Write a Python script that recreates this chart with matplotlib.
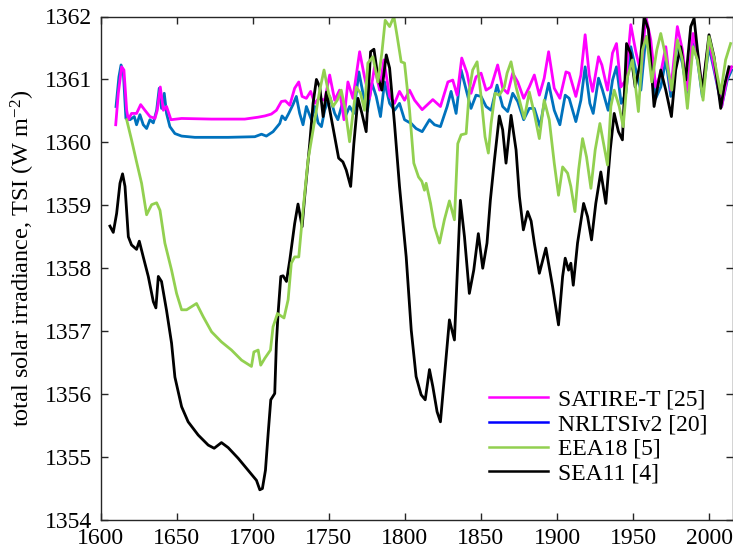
import matplotlib
matplotlib.use("Agg")
import matplotlib.pyplot as plt
from matplotlib.lines import Line2D

plt.rcParams['font.family'] = ['Liberation Serif', 'DejaVu Serif']
plt.rcParams['mathtext.fontset'] = 'custom'
plt.rcParams['mathtext.rm'] = 'Liberation Serif'
plt.rcParams['mathtext.it'] = 'Liberation Serif:italic'

# --- data (year, TSI in W m^-2) ---
satire_yr = [1610.0, 1611.7, 1613.9, 1615.4, 1617.2, 1618.3, 1620.4, 1623.7, 1626.4, 1629.2,
             1632.5, 1635.8, 1637.3, 1639.3, 1641.3, 1643.4, 1646.3, 1653.3, 1672.9, 1694.8,
             1703.6, 1708.0, 1712.3, 1715.6, 1718.9, 1721.5, 1724.4, 1727.6, 1730.3, 1732.5,
             1735.3, 1738.1, 1740.8, 1743.4, 1747.3, 1750.6, 1753.9, 1757.1, 1760.0, 1762.6,
             1765.9, 1770.3, 1773.5, 1776.8, 1780.1, 1783.4, 1786.2, 1790.0, 1793.2, 1796.5,
             1799.8, 1803.1, 1806.4, 1811.4, 1818.4, 1823.4, 1828.3, 1831.5, 1834.4, 1837.4,
             1840.9, 1843.5, 1846.8, 1850.1, 1853.4, 1856.7, 1861.0, 1864.3, 1867.6, 1870.9,
             1874.2, 1878.1, 1881.8, 1885.1, 1888.4, 1891.6, 1894.5, 1898.2, 1901.9, 1905.9,
             1908.0, 1912.4, 1915.7, 1918.5, 1921.2, 1923.4, 1927.3, 1929.5, 1933.2, 1936.5,
             1939.1, 1942.0, 1945.2, 1948.5, 1951.8, 1955.1, 1958.4, 1961.6, 1964.9, 1968.2,
             1971.5, 1974.8, 1979.1, 1982.4, 1985.7, 1989.4, 1992.3, 1995.5, 1999.9, 2003.2,
             2008.2, 2011.9, 2014.8]
satire_tsi = [1360.28, 1360.78, 1361.20, 1361.15, 1360.51, 1360.36, 1360.46, 1360.46, 1360.60, 1360.51,
              1360.41, 1360.38, 1360.51, 1360.88, 1360.51, 1360.57, 1360.36, 1360.38, 1360.37, 1360.37,
              1360.40, 1360.42, 1360.45, 1360.51, 1360.65, 1360.66, 1360.59, 1360.86, 1360.96, 1360.73,
              1360.70, 1360.81, 1360.62, 1360.70, 1360.67, 1361.07, 1360.67, 1360.83, 1360.36, 1360.96,
              1360.70, 1361.44, 1361.04, 1360.70, 1361.20, 1360.83, 1361.31, 1360.73, 1360.62, 1360.81,
              1360.67, 1360.83, 1360.67, 1360.52, 1360.68, 1360.57, 1360.96, 1360.99, 1360.75, 1361.34,
              1361.10, 1360.78, 1361.04, 1361.10, 1360.83, 1360.88, 1361.23, 1360.86, 1360.78, 1361.10,
              1360.96, 1360.70, 1360.88, 1361.07, 1360.75, 1361.02, 1361.44, 1360.86, 1360.70, 1361.12,
              1361.10, 1360.73, 1361.07, 1361.71, 1361.07, 1360.81, 1361.36, 1361.23, 1360.83, 1361.42,
              1361.57, 1360.88, 1360.99, 1361.87, 1361.44, 1361.10, 1362.00, 1361.63, 1360.88, 1361.10,
              1361.52, 1360.83, 1361.84, 1361.47, 1360.83, 1361.73, 1361.42, 1360.81, 1361.63, 1361.20,
              1360.57, 1361.04, 1361.20]

nrl_yr = [1610.2, 1612.1, 1613.5, 1615.0, 1616.7, 1619.4, 1622.2, 1623.7, 1625.9, 1628.1,
          1630.3, 1632.5, 1634.7, 1636.9, 1638.6, 1640.1, 1641.9, 1643.4, 1645.6, 1648.9,
          1653.3, 1662.0, 1683.9, 1701.4, 1705.8, 1709.0, 1713.4, 1717.8, 1719.3, 1721.5,
          1723.7, 1726.5, 1728.7, 1730.9, 1733.1, 1735.3, 1738.6, 1740.8, 1743.0, 1745.2,
          1747.3, 1750.6, 1753.9, 1756.0, 1758.7, 1760.9, 1763.7, 1766.5, 1769.8, 1772.5,
          1775.3, 1778.4, 1781.2, 1784.0, 1786.7, 1790.0, 1793.2, 1796.5, 1799.8, 1804.2,
          1807.4, 1811.4, 1816.2, 1819.5, 1823.4, 1827.8, 1830.4, 1833.7, 1837.0, 1840.9,
          1843.5, 1846.8, 1850.1, 1853.4, 1856.7, 1860.6, 1864.3, 1867.6, 1870.9, 1874.2,
          1878.1, 1881.8, 1885.1, 1888.8, 1891.6, 1894.5, 1898.2, 1901.9, 1905.4, 1908.0,
          1912.4, 1915.7, 1918.5, 1921.6, 1923.8, 1927.3, 1929.9, 1933.6, 1936.5, 1939.1,
          1942.2, 1945.2, 1948.5, 1951.8, 1955.1, 1958.4, 1961.6, 1964.9, 1968.2, 1971.5,
          1974.8, 1979.1, 1982.4, 1985.7, 1989.4, 1992.3, 1995.5, 1999.9, 2003.2, 2008.2,
          2011.9, 2014.8]
nrl_tsi = [1360.57, 1361.04, 1361.23, 1361.12, 1360.38, 1360.36, 1360.41, 1360.28, 1360.44, 1360.28,
           1360.22, 1360.36, 1360.31, 1360.51, 1360.86, 1360.54, 1360.78, 1360.46, 1360.25, 1360.14,
           1360.10, 1360.08, 1360.08, 1360.09, 1360.13, 1360.10, 1360.17, 1360.30, 1360.42, 1360.36,
           1360.46, 1360.60, 1360.73, 1360.46, 1360.28, 1360.57, 1360.36, 1360.57, 1360.31, 1360.25,
           1360.51, 1360.73, 1360.46, 1360.36, 1360.60, 1360.41, 1360.57, 1360.46, 1361.12, 1360.78,
           1360.49, 1360.94, 1360.73, 1360.41, 1360.96, 1360.62, 1360.51, 1360.62, 1360.36, 1360.30,
           1360.22, 1360.17, 1360.36, 1360.28, 1360.25, 1360.57, 1360.81, 1360.46, 1361.15, 1360.78,
           1360.54, 1360.75, 1360.73, 1360.57, 1360.51, 1360.91, 1360.57, 1360.49, 1360.78, 1360.65,
           1360.36, 1360.54, 1360.54, 1360.25, 1360.62, 1360.94, 1360.51, 1360.28, 1360.75, 1360.70,
           1360.33, 1360.67, 1361.20, 1360.62, 1360.46, 1361.02, 1360.83, 1360.51, 1360.99, 1361.20,
           1360.62, 1360.78, 1361.52, 1361.15, 1360.83, 1361.68, 1361.31, 1360.70, 1360.88, 1361.31,
           1360.73, 1361.57, 1361.26, 1360.75, 1361.57, 1361.31, 1360.73, 1361.52, 1361.15, 1360.57,
           1360.99, 1361.15]

eea_yr = [1617.2, 1620.4, 1623.7, 1627.0, 1630.3, 1633.6, 1636.9, 1639.1, 1642.3, 1646.7,
          1650.0, 1653.3, 1656.6, 1663.1, 1667.5, 1673.0, 1679.5, 1686.1, 1692.7, 1699.2,
          1700.8, 1703.6, 1705.3, 1708.0, 1711.7, 1713.4, 1716.3, 1720.6, 1723.3, 1725.4,
          1727.6, 1730.3, 1733.1, 1736.4, 1740.8, 1744.1, 1746.9, 1749.9, 1752.8, 1755.6,
          1758.2, 1760.9, 1763.7, 1765.9, 1768.1, 1770.9, 1773.5, 1775.7, 1779.0, 1782.3,
          1784.9, 1787.1, 1790.0, 1792.8, 1795.0, 1797.6, 1799.8, 1803.1, 1805.9, 1809.0,
          1811.2, 1812.9, 1814.0, 1816.9, 1819.5, 1822.8, 1826.0, 1829.3, 1832.6, 1834.8,
          1837.0, 1840.3, 1842.4, 1844.6, 1847.5, 1850.1, 1852.7, 1854.9, 1856.7, 1859.3,
          1862.1, 1865.4, 1867.2, 1869.8, 1873.1, 1876.4, 1878.5, 1881.8, 1885.1, 1888.4,
          1891.6, 1894.9, 1898.2, 1901.0, 1903.7, 1907.0, 1909.1, 1911.8, 1914.2, 1916.8,
          1919.4, 1922.3, 1925.1, 1928.2, 1931.0, 1933.2, 1935.4, 1937.6, 1940.9, 1943.5,
          1946.3, 1949.6, 1953.5, 1956.2, 1958.8, 1962.3, 1965.6, 1968.2, 1971.5, 1975.4,
          1979.1, 1982.4, 1985.7, 1989.4, 1992.3, 1996.0, 1999.9, 2003.2, 2007.6, 2010.8,
          2014.1]
eea_tsi = [1360.36, 1360.04, 1359.69, 1359.35, 1358.85, 1359.01, 1359.04, 1358.92, 1358.40, 1357.97,
           1357.60, 1357.34, 1357.34, 1357.44, 1357.23, 1356.99, 1356.83, 1356.70, 1356.54, 1356.44,
           1356.67, 1356.70, 1356.46, 1356.57, 1356.70, 1357.07, 1357.28, 1357.21, 1357.50, 1358.08,
           1358.18, 1358.18, 1358.92, 1359.72, 1360.36, 1360.83, 1361.15, 1360.78, 1360.57, 1360.67,
           1360.83, 1360.51, 1360.01, 1360.46, 1360.88, 1360.78, 1360.51, 1361.26, 1361.36, 1360.96,
           1361.42, 1361.94, 1361.84, 1362.00, 1361.68, 1361.28, 1361.26, 1360.51, 1359.67, 1359.45,
           1359.38, 1359.24, 1359.35, 1359.03, 1358.66, 1358.40, 1358.77, 1359.07, 1358.77, 1359.98,
           1360.12, 1360.14, 1360.83, 1361.15, 1361.28, 1360.73, 1360.09, 1359.83, 1360.30, 1360.78,
           1360.75, 1360.88, 1361.10, 1361.28, 1360.88, 1360.57, 1360.38, 1360.80, 1360.46, 1360.06,
           1360.67, 1360.36, 1359.67, 1359.16, 1359.61, 1359.51, 1359.30, 1358.90, 1359.56, 1360.06,
           1359.77, 1359.27, 1359.88, 1360.30, 1359.93, 1359.64, 1360.57, 1360.83, 1360.57, 1360.25,
           1361.04, 1361.31, 1360.49, 1361.47, 1361.68, 1360.96, 1361.47, 1361.73, 1361.36, 1360.83,
           1361.63, 1361.31, 1360.54, 1361.52, 1361.31, 1360.67, 1361.68, 1361.34, 1360.78, 1361.31,
           1361.57]

sea_yr = [1606.2, 1608.4, 1610.6, 1612.8, 1614.5, 1616.1, 1618.3, 1620.4, 1623.7, 1625.5,
          1628.1, 1631.4, 1634.7, 1636.4, 1638.0, 1640.1, 1643.4, 1646.7, 1648.9, 1653.3,
          1657.6, 1664.2, 1670.8, 1674.7, 1679.5, 1683.9, 1690.5, 1697.0, 1702.5, 1704.7,
          1706.4, 1708.4, 1710.2, 1711.9, 1714.5, 1715.6, 1716.7, 1718.5, 1720.0, 1722.2,
          1724.4, 1727.6, 1729.8, 1730.9, 1732.5, 1734.2, 1737.5, 1739.7, 1741.9, 1744.1,
          1746.3, 1748.5, 1750.7, 1753.9, 1756.5, 1759.3, 1761.5, 1764.4, 1766.5, 1769.2,
          1771.8, 1774.6, 1777.5, 1779.7, 1782.3, 1784.9, 1787.8, 1790.0, 1793.2, 1796.5,
          1800.9, 1804.2, 1807.4, 1810.7, 1813.4, 1816.2, 1818.4, 1821.2, 1823.4, 1826.0,
          1829.3, 1832.6, 1834.4, 1836.5, 1839.2, 1842.4, 1845.3, 1848.3, 1851.2, 1854.0,
          1856.2, 1858.9, 1862.1, 1864.3, 1866.5, 1869.8, 1873.1, 1875.3, 1877.9, 1880.7,
          1883.0, 1885.1, 1888.4, 1892.7, 1897.1, 1901.0, 1903.7, 1905.4, 1907.6, 1909.1,
          1910.7, 1913.5, 1917.5, 1920.1, 1922.7, 1925.5, 1928.8, 1932.1, 1935.0, 1937.6,
          1940.4, 1943.0, 1945.7, 1948.5, 1951.4, 1954.6, 1957.3, 1960.1, 1963.8, 1968.2,
          1971.5, 1975.2, 1978.0, 1981.3, 1984.6, 1987.9, 1990.1, 1992.3, 1995.5, 1999.9,
          2003.2, 2007.6, 2009.8, 2013.0]
sea_tsi = [1358.67, 1358.57, 1358.87, 1359.35, 1359.50, 1359.30, 1358.50, 1358.37, 1358.30, 1358.43,
           1358.18, 1357.87, 1357.47, 1357.37, 1357.87, 1357.79, 1357.33, 1356.81, 1356.27, 1355.80,
           1355.56, 1355.35, 1355.19, 1355.14, 1355.23, 1355.15, 1354.98, 1354.79, 1354.63, 1354.48,
           1354.50, 1354.79, 1355.38, 1355.91, 1356.01, 1356.81, 1357.28, 1357.87, 1357.88, 1357.79,
           1358.13, 1358.71, 1359.02, 1358.87, 1358.66, 1359.14, 1359.98, 1360.62, 1361.00, 1360.88,
           1360.41, 1360.80, 1360.51, 1360.09, 1359.75, 1359.69, 1359.56, 1359.30, 1359.98, 1360.70,
           1360.46, 1360.17, 1361.44, 1361.48, 1361.04, 1360.83, 1361.39, 1361.18, 1360.30, 1359.30,
           1358.18, 1357.02, 1356.28, 1355.99, 1355.91, 1356.39, 1356.12, 1355.72, 1355.56, 1356.28,
           1357.18, 1356.86, 1357.87, 1359.08, 1358.50, 1357.60, 1357.97, 1358.55, 1358.00, 1358.40,
           1359.08, 1359.72, 1360.42, 1360.20, 1359.67, 1360.43, 1359.88, 1359.14, 1358.61, 1358.90,
           1358.75, 1358.40, 1357.92, 1358.32, 1357.71, 1357.10, 1357.87, 1358.16, 1357.97, 1358.08,
           1357.73, 1358.40, 1359.03, 1358.82, 1358.45, 1359.03, 1359.53, 1359.03, 1359.88, 1360.46,
           1360.17, 1360.04, 1361.57, 1361.41, 1360.88, 1361.25, 1362.00, 1361.79, 1360.57, 1361.15,
           1360.83, 1360.41, 1361.15, 1361.52, 1360.99, 1361.84, 1361.97, 1361.47, 1360.81, 1361.71,
           1361.36, 1360.54, 1360.88, 1361.20]

labels = ['SATIRE-T [25]', 'NRLTSIv2 [20]', 'EEA18 [5]', 'SEA11 [4]']
c_satire = '#FF00FF'
c_nrl = '#0072BD'
c_eea = '#92D050'
c_sea = 'black'

fig = plt.figure(figsize=(7.33, 5.55), dpi=100)
ax = fig.add_axes([100.5 / 733, 35 / 555, 633 / 733, 503.5 / 555])

lw = 2.0
ax.plot(nrl_yr, nrl_tsi, color=c_nrl, lw=lw)
ax.plot(satire_yr, satire_tsi, color=c_satire, lw=lw)
ax.plot(sea_yr, sea_tsi, color=c_sea, lw=lw)
ax.plot(eea_yr, eea_tsi, color=c_eea, lw=lw)

ax.set_xlim(1600, 2016)
ax.set_ylim(1354, 1362)
ax.set_xticks(range(1600, 2001, 50))
ax.set_yticks(range(1354, 1363))

ax.tick_params(direction='in', length=5, width=1, labelsize=17, colors='#262626',
               top=True, right=True, pad=6)
ax.tick_params(labelcolor='black')
for sp in ax.spines.values():
    sp.set_color('#262626')
    sp.set_linewidth(1.0)

ax.set_ylabel('total solar irradiance, TSI (W m$^{-2}$)', fontsize=17.5)
ax.yaxis.set_label_coords(-0.100, 0.52)

# legend line for NRLTSIv2 is pure blue in the original
handles = [Line2D([], [], color=c_satire, lw=1.8),
           Line2D([], [], color='#0000FF', lw=1.8),
           Line2D([], [], color=c_eea, lw=1.8),
           Line2D([], [], color=c_sea, lw=1.8)]
ax.legend(handles, labels, loc='lower left', bbox_to_anchor=(0.614, 0.07), frameon=False,
          fontsize=17, handlelength=2.5, handletextpad=0.42, labelspacing=0.14,
          borderaxespad=0, borderpad=0)

fig.savefig('out.png', dpi=100)
